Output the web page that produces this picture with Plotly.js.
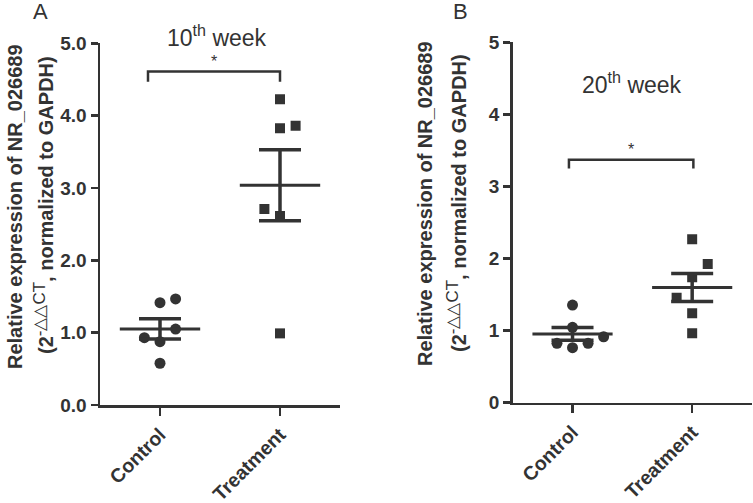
<!DOCTYPE html>
<html><head><meta charset="utf-8">
<script src="https://cdn.plot.ly/plotly-3.0.1.min.js"></script>
<style>html,body{margin:0;padding:0;background:#fff}#c{width:753px;height:503px}</style>
</head><body><div id="c"></div>
<script>
const categories = ['Control', 'Treatment'];
const tickValsA = [0, 1, 2, 3, 4, 5];
const tickTextA = ['0.0', '1.0', '2.0', '3.0', '4.0', '5.0'];
const tickValsB = [0, 1, 2, 3, 4, 5];
const tickTextB = ['0', '1', '2', '3', '4', '5'];

// Panel A (10th week)
const controlA = [1.415, 1.466, 1.05, 0.93, 0.875, 0.577];
const controlA_jitter = [0, 0.13, 0.13, -0.13, 0, 0];
const treatmentA = [4.228, 3.827, 3.859, 2.711, 2.614, 0.99];
const treatmentA_jitter = [0, 0, 0.13, -0.13, 0, 0];
// Panel B (20th week)
const controlB = [1.355, 1.046, 0.915, 0.824, 0.763, 0.824];
const controlB_jitter = [0, 0, 0.26, -0.13, 0, 0.13];
const treatmentB = [2.266, 1.924, 1.739, 1.456, 1.24, 0.962];
const treatmentB_jitter = [0, 0.13, 0, -0.13, 0, 0];

const sigA = {y: 4.61, drop: 0.14, x0: -0.1, x1: 1};
const sigB = {y: 3.37, drop: 0.12, x0: -0.03, x1: 1.01};

const COL = '#333333';
const FONT = 'Liberation Sans, Arial, Helvetica, sans-serif';

function mean(a){return a.reduce((s,v)=>s+v,0)/a.length;}
function sem(a){const m=mean(a);const v=a.reduce((s,x)=>s+(x-m)*(x-m),0)/(a.length-1);return Math.sqrt(v/a.length);}

const traces = [];
function group(vals, jit, idx, symbol, size, xa, ya){
  traces.push({x: vals.map((v,i)=>idx+jit[i]), y: vals, type:'scatter', mode:'markers',
    marker:{symbol: symbol, size: size, color: COL}, xaxis: xa, yaxis: ya, hoverinfo:'y', showlegend:false});
  const m = mean(vals), s = sem(vals);
  traces.push({x:[idx-0.335, idx+0.335], y:[m,m], type:'scatter', mode:'lines',
    line:{color:COL, width:3}, xaxis: xa, yaxis: ya, hoverinfo:'skip', showlegend:false});
  traces.push({x:[idx], y:[m], type:'scatter', mode:'markers', marker:{size:1, color:'rgba(0,0,0,0)'},
    error_y:{type:'data', array:[s], visible:true, color:COL, thickness:3.5, width:21},
    xaxis: xa, yaxis: ya, hoverinfo:'skip', showlegend:false});
}
group(controlA, controlA_jitter, 0, 'circle', 11, 'x', 'y');
group(treatmentA, treatmentA_jitter, 1, 'square', 10, 'x', 'y');
group(controlB, controlB_jitter, 0, 'circle', 11, 'x2', 'y2');
group(treatmentB, treatmentB_jitter, 1, 'square', 10, 'x2', 'y2');

function bracket(sig, xr, yr){
  return {type:'path', xref:xr, yref:yr,
    path:`M ${sig.x0},${sig.y-sig.drop} L ${sig.x0},${sig.y} L ${sig.x1},${sig.y} L ${sig.x1},${sig.y-sig.drop}`,
    line:{color:COL, width:2.5}};
}

const xCommon = {range:[-0.5,1.5], tickvals:[0,1], ticktext:categories, tickangle:-45,
  showline:true, linecolor:COL, linewidth:2.5, ticks:'outside', ticklen:8, tickwidth:2.5, tickcolor:COL,
  showgrid:false, zeroline:false, tickfont:{family:FONT, size:19.5, color:COL, weight:'bold'}};
const yCommon = {range:[0,5], showline:true, linecolor:COL, linewidth:2.5, ticks:'outside', ticklen:7,
  tickwidth:2.5, tickcolor:COL, showgrid:false, zeroline:false,
  tickfont:{family:FONT, size:19, color:COL, weight:'bold'}};

const W = 753, H = 503;
function px(x){return x/W;} function py(y){return 1 - y/H;}

const line1 = '<b>Relative expression of NR_026689</b>';
const line2 = '<b>(2</b><sup><span style="font-size:17px">-△△CT</span></sup><b>, normalized to GAPDH)</b>';

function ann(text, x, y, size, extra){
  return Object.assign({text:text, x:px(x), y:py(y), xref:'paper', yref:'paper', xanchor:'center', yanchor:'middle',
    showarrow:false, font:{family:FONT, size:size, color:COL}}, extra||{});
}

const annotations = [
  ann('A', 40, 12, 22),
  ann('B', 460, 12, 22),
  ann('10<sup>th</sup> week', 217, 36, 23),
  ann('20<sup>th</sup> week', 632, 83, 23),
  {text:'*', x:(sigA.x0+sigA.x1)/2, y:sigA.y, xref:'x', yref:'y', xanchor:'center', yanchor:'bottom', showarrow:false, font:{family:FONT, size:16, color:COL}},
  {text:'*', x:(sigB.x0+sigB.x1)/2, y:sigB.y, xref:'x2', yref:'y2', xanchor:'center', yanchor:'bottom', showarrow:false, font:{family:FONT, size:16, color:COL}},
  ann(line1, 15, 207, 20, {textangle:-90}),
  ann(line2, 43, 205, 20, {textangle:-90}),
  ann(line1, 425, 204, 20, {textangle:-90}),
  ann(line2, 457, 203, 20, {textangle:-90})
];

const layout = {
  width:W, height:H, margin:{l:0, r:0, t:0, b:0}, paper_bgcolor:'#fff', plot_bgcolor:'#fff',
  showlegend:false,
  xaxis: Object.assign({}, xCommon, {domain:[px(100), px(340)], anchor:'y'}),
  yaxis: Object.assign({}, yCommon, {domain:[py(405), py(43.3)], anchor:'x', tickvals:tickValsA, ticktext:tickTextA}),
  xaxis2: Object.assign({}, xCommon, {domain:[px(512.7), px(752)], anchor:'y2'}),
  yaxis2: Object.assign({}, yCommon, {domain:[py(402.7), py(42.3)], anchor:'x2', tickvals:tickValsB, ticktext:tickTextB}),
  shapes:[bracket(sigA,'x','y'), bracket(sigB,'x2','y2')],
  annotations: annotations
};
Plotly.newPlot('c', traces, layout, {staticPlot:true, displayModeBar:false});
</script></body></html>
